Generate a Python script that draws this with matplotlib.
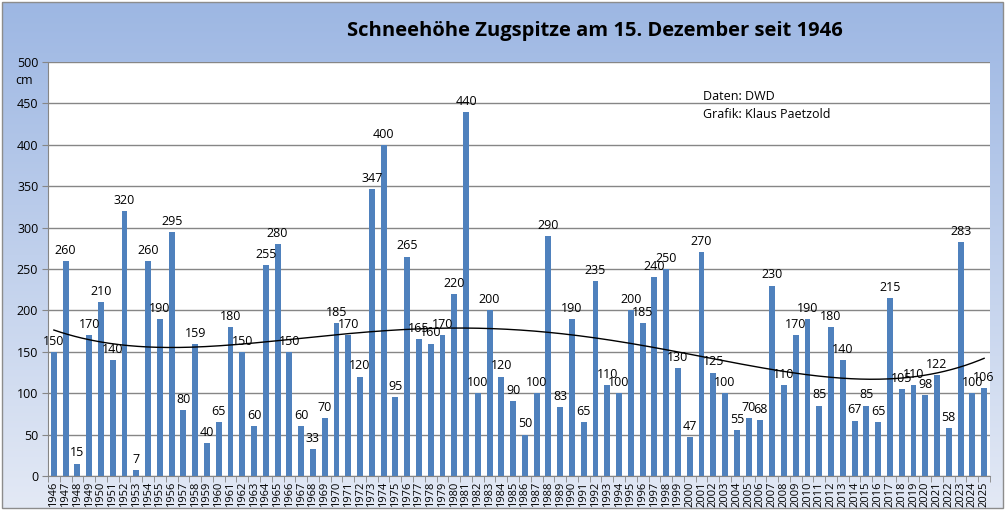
import numpy as np
import matplotlib.pyplot as plt
from matplotlib.colors import LinearSegmentedColormap
from matplotlib.patches import Rectangle

# Schneehöhe Zugspitze am 15. Dezember (cm)
years = list(range(1946, 2026))
snow = [150, 260, 15, 170, 210, 140, 320, 7, 260, 190,
        295, 80, 159, 40, 65, 180, 150, 60, 255, 280,
        150, 60, 33, 70, 185, 170, 120, 347, 400, 95,
        265, 165, 160, 170, 220, 440, 100, 200, 120, 90,
        50, 100, 290, 83, 190, 65, 235, 110, 100, 200,
        185, 240, 250, 130, 47, 270, 125, 100, 55, 70,
        68, 230, 110, 170, 190, 85, 180, 140, 67, 85,
        65, 215, 105, 110, 98, 122, 58, 283, 100, 106]
yticks = list(range(0, 501, 50))

plt.rcParams['font.family'] = ['Open Sans', 'DejaVu Sans']

W, H = 1007, 520
fig = plt.figure(figsize=(W / 100, H / 100), dpi=100)

# hintergrund mit farbverlauf
bg = fig.add_axes([0, 0, 1, 1], zorder=-1)
bg.set_xlim(0, W)
bg.set_ylim(H, 0)
cmap = LinearSegmentedColormap.from_list('bg', ['#9db7e3', '#e3e9f5'])
grad = np.linspace(0, 1, 256).reshape(-1, 1)
bg.imshow(grad, cmap=cmap, extent=[2, 1003, 508, 2], aspect='auto')
bg.add_patch(Rectangle((2, 2), 1001, 506, fill=False, edgecolor='#8c8c8c', lw=1))
bg.axis('off')

ax = fig.add_axes([48 / W, 44 / H, 942 / W, 414 / H])
ax.set_facecolor('white')
x = np.arange(len(years))
ax.bar(x, snow, width=0.5, color='#4f81bd', zorder=2)

# polynomischer trend (4. ordnung)
t = (x - x.mean()) / x.mean()
coef = np.polyfit(t, snow, 4)
xs = np.linspace(0, len(years) - 1, 400)
ax.plot(xs, np.polyval(coef, (xs - x.mean()) / x.mean()), color='black', lw=1, zorder=3)

for i, v in enumerate(snow):
    ax.annotate(str(v), (i, v), xytext=(0, 3), textcoords='offset points',
                ha='center', va='bottom', fontsize=9, zorder=4)

ax.set_xlim(-0.5, len(years) - 0.5)
ax.set_ylim(0, 500)
ax.set_yticks(yticks)
ax.tick_params(axis='y', labelsize=9, length=4, color='#868686', pad=3)
ax.yaxis.grid(True, color='#868686', lw=1)
ax.set_axisbelow(True)

ax.set_xticks(x)
ax.set_xticklabels([str(y) for y in years], rotation=90, fontsize=8)
ax.tick_params(axis='x', which='major', length=0, pad=4)
ax.set_xticks(np.arange(-0.5, len(years), 1), minor=True)
ax.tick_params(axis='x', which='minor', length=4, color='#868686')

for s in ['top', 'right']:
    ax.spines[s].set_visible(False)
for s in ['left', 'bottom']:
    ax.spines[s].set_color('#868686')

fig.text(595 / W, 1 - 31 / H, 'Schneehöhe Zugspitze am 15. Dezember seit 1946',
         ha='center', va='center', fontsize=14.5, fontweight='bold')
fig.text(24 / W, 1 - 80 / H, 'cm', ha='center', va='center', fontsize=9)
fig.text(703 / W, 1 - 96 / H, 'Daten: DWD', ha='left', va='center', fontsize=9)
fig.text(703 / W, 1 - 114 / H, 'Grafik: Klaus Paetzold', ha='left', va='center', fontsize=9)

fig.savefig('out.png', dpi=100)
